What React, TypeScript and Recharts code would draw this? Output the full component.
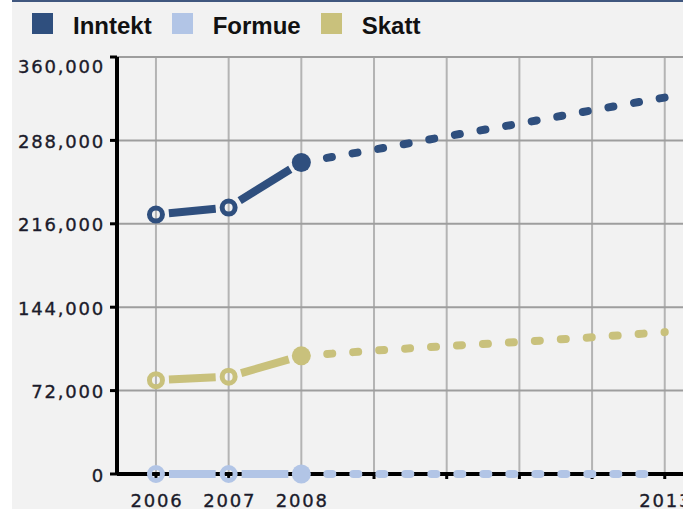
import React from "react";
import { CartesianGrid, Line, LineChart, XAxis, YAxis } from "recharts";

const years = [2006, 2007, 2008, 2009, 2010, 2011, 2012, 2013];
const labelledYears = [2006, 2007, 2008, 2013];

const inntektMeasured = [224000, 230000, 269000, null, null, null, null, null];
const inntektForecast = [null, null, 269000, 280000, 291500, 302500, 314000, 325000];
const formueMeasured = [0, 0, 0, null, null, null, null, null];
const formueForecast = [null, null, 0, 0, 0, 0, 0, 0];
const skattMeasured = [81000, 84000, 102000, null, null, null, null, null];
const skattForecast = [null, null, 102000, 106500, 110500, 114000, 118000, 122500];

const yTicks = [0, 72000, 144000, 216000, 288000, 360000];

const series = [
  { key: "inntekt", name: "Inntekt", color: "#2f4f7e", measured: inntektMeasured, forecast: inntektForecast },
  { key: "formue", name: "Formue", color: "#b2c5e6", measured: formueMeasured, forecast: formueForecast },
  { key: "skatt", name: "Skatt", color: "#c9c17c", measured: skattMeasured, forecast: skattForecast },
];

const data = years.map((year, i) => {
  const row: Record<string, number | null> = { year };
  series.forEach((s) => {
    row[s.key] = s.measured[i];
    row[s.key + "Prog"] = s.forecast[i];
  });
  return row;
});

const BG = "#f2f2f2";
const TICK_FONT = "'DejaVu Sans', Verdana, sans-serif";
const TICK_COLOR = "#1b1b2b";
const GAP = 13;
const LINE_W = 8;

// measured points: ring markers, the last one filled, with short gaps between marker and line
const makeDot = (color: string, progKey: string) => (props: any) => {
  const { cx, cy, index, points, payload } = props;
  if (cx == null || cy == null) return <g key={`dot-${index}`} />;
  const filled = payload && payload[progKey] != null;
  let seg = null;
  const prev = points && points[index - 1];
  if (prev && prev.x != null && prev.y != null) {
    const dx = cx - prev.x;
    const dy = cy - prev.y;
    const len = Math.hypot(dx, dy) || 1;
    const ux = dx / len;
    const uy = dy / len;
    seg = (
      <line
        x1={prev.x + ux * GAP}
        y1={prev.y + uy * GAP}
        x2={cx - ux * GAP}
        y2={cy - uy * GAP}
        stroke={color}
        strokeWidth={LINE_W}
      />
    );
  }
  return (
    <g key={`dot-${index}`}>
      {seg}
      {filled ? (
        <circle cx={cx} cy={cy} r={9.5} fill={color} />
      ) : (
        <circle cx={cx} cy={cy} r={6.5} fill="none" stroke={color} strokeWidth={5} />
      )}
    </g>
  );
};

const YTick = (props: any) => {
  const { x, y, payload } = props;
  const top = payload.value === 360000;
  return (
    <text
      x={x}
      y={y}
      dy={top ? 15.6 : 7.6}
      textAnchor="end"
      fill={TICK_COLOR}
      stroke={TICK_COLOR}
      strokeWidth={0.35}
      fontSize={18}
      fontFamily={TICK_FONT}
      style={{ letterSpacing: "1.8px" }}
    >
      {payload.value.toLocaleString("en-US")}
    </text>
  );
};

const XTick = (props: any) => {
  const { x, y, payload } = props;
  if (!labelledYears.includes(payload.value)) return <g />;
  return (
    <text
      x={x + 1}
      y={y}
      dy={27.5}
      textAnchor="middle"
      fill={TICK_COLOR}
      stroke={TICK_COLOR}
      strokeWidth={0.35}
      fontSize={18}
      fontFamily={TICK_FONT}
      style={{ letterSpacing: "1.8px" }}
    >
      {payload.value}
    </text>
  );
};

export default function App() {
  return (
    <div
      style={{
        position: "absolute",
        left: 0,
        top: 0,
        width: 683,
        height: 509,
        overflow: "hidden",
        background: BG,
      }}
    >
      <div style={{ position: "absolute", left: 0, top: 0, width: 12, height: 509, background: "#fff" }} />
      <div style={{ position: "absolute", left: 12, top: 0, width: 671, height: 2, background: "#40577f" }} />
      <div
        style={{
          position: "absolute",
          left: 32,
          top: 13,
          display: "flex",
          alignItems: "center",
          fontFamily: "'Liberation Sans', Arial, sans-serif",
          fontWeight: "bold",
          fontSize: 24,
          lineHeight: "21px",
          color: "#111",
        }}
      >
        {series.map((s) => (
          <React.Fragment key={s.key}>
            <span style={{ width: 21, height: 21, background: s.color, marginRight: 20 }} />
            <span style={{ position: "relative", top: 2, marginRight: 20 }}>{s.name}</span>
          </React.Fragment>
        ))}
      </div>
      <div style={{ position: "absolute", left: 0, top: 0 }}>
        <LineChart width={720} height={509} data={data} margin={{ top: 57, right: 16, bottom: 0, left: 0 }}>
          <CartesianGrid horizontal={false} stroke="#b4b4b4" strokeWidth={2} />
          <CartesianGrid vertical={false} stroke="#9e9e9e" strokeWidth={2} />
          <XAxis
            dataKey="year"
            type="number"
            domain={[2005.464, 2013.54]}
            ticks={years}
            interval={0}
            height={35}
            tickSize={5}
            tickMargin={0}
            axisLine={{ stroke: "#000", strokeWidth: 4 }}
            tickLine={{ stroke: "#000", strokeWidth: 3 }}
            tick={<XTick />}
            allowDataOverflow
          />
          <YAxis
            type="number"
            domain={[0, 360000]}
            ticks={yTicks}
            interval={0}
            width={117}
            tickSize={7}
            tickMargin={5}
            axisLine={{ stroke: "#000", strokeWidth: 4 }}
            tickLine={{ stroke: "#000", strokeWidth: 3 }}
            tick={<YTick />}
          />
          {series.map((s) => (
            <Line
              key={s.key + "Prog"}
              dataKey={s.key + "Prog"}
              stroke={s.color}
              strokeWidth={LINE_W}
              strokeDasharray="5 21"
              strokeLinecap="round"
              dot={false}
              activeDot={false}
              isAnimationActive={false}
              zIndex={600}
            />
          ))}
          {series.map((s) => (
            <Line
              key={s.key}
              dataKey={s.key}
              stroke="none"
              dot={makeDot(s.color, s.key + "Prog")}
              activeDot={false}
              isAnimationActive={false}
              zIndex={600}
            />
          ))}
        </LineChart>
      </div>
    </div>
  );
}
